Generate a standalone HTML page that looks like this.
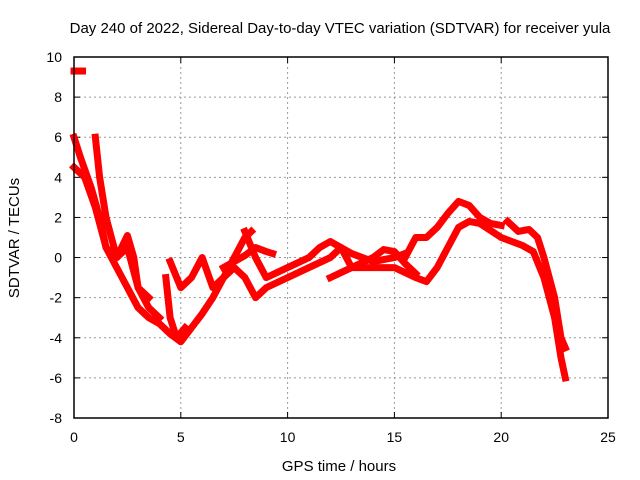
<!DOCTYPE html>
<html><head><meta charset="utf-8"><style>
body{margin:0;background:#fff}
svg{display:block;font-family:"Liberation Sans",sans-serif}
</style></head><body>
<svg id="chart" width="640" height="480">
<text x="340" y="33" font-size="15" text-anchor="middle">Day 240 of 2022, Sidereal Day-to-day VTEC variation (SDTVAR) for receiver yula</text>
<text x="339" y="471" font-size="15" text-anchor="middle">GPS time / hours</text>
<text transform="translate(19,238) rotate(-90)" font-size="15" text-anchor="middle">SDTVAR / TECUs</text>
<g id="grid"></g><g id="axes"></g><g id="marks"></g>
<rect x="74" y="57" width="534" height="361" fill="none" stroke="#000" stroke-width="1.5"/>
</svg>
<script>
const xTicks=[0,5,10,15,20,25];
const yTicks=[-8,-6,-4,-2,0,2,4,6,8,10];
const seriesX=[
[0,0.4],
[0,0.3,0.8,1.2,1.5,2,2.5,3,3.5,4,4.5,5,5.5,6,6.5,7,7.5,8,8.3],
[0,0.5,1,1.5,2,2.5,3,3.5,4],
[1,1.2,1.5,2,2.5,2.8,3,3.5],
[4.3,4.5,4.8,5.2],
[4.5,5,5.5,6,6.5,7,7.5,8,8.5,9,10,11,12,12.5,13,14,15,15.5],
[7,8,8.5,9,9.3],
[8,8.5,9,10,11,11.5,12,12.5,13,14,14.5,15,15.5,16],
[12,13,14,15,16,16.5,17,17.5,18,18.5,19,20,21,21.5,22,22.5,22.8,23],
[15.5,16,16.5,17,17.5,18,18.5,19,19.5,20],
[20.3,20.8,21.3,21.7,22,22.5,22.8,23]
];
const seriesY=[
[9.3,9.3],
[6,5,3.5,2,0.5,-0.5,-1.5,-2.5,-3,-3.3,-3.8,-4.2,-3.5,-2.8,-2,-1,0,1,1.3],
[4.5,4,2.5,0.5,0,0.5,-1.5,-2.5,-3],
[6,4,2,0,1.1,0,-1.5,-2],
[-1,-3,-4,-3.5],
[-0.2,-1.5,-1,0,-1.5,-1,-0.5,-1,-2,-1.5,-1,-0.5,0,0.5,0.2,-0.2,0,0.2],
[-0.5,0.1,0.5,0.3,0.2],
[1.3,0,-1,-0.5,0,0.5,0.8,0.5,-0.5,0,0.4,0.3,-0.3,-0.8],
[-1,-0.5,-0.5,-0.5,-1,-1.2,-0.5,0.5,1.5,1.8,1.7,1,0.6,0.3,-1,-3,-5,-6],
[0,1,1,1.5,2.2,2.8,2.6,2,1.7,1.6],
[1.8,1.3,1.4,1,0,-2,-4,-4.5]
];
const NS="http://www.w3.org/2000/svg";
const X=v=>74+v*534/25, Y=v=>418-(v+8)*361/18;
const grid=document.getElementById('grid'),axes=document.getElementById('axes'),marks=document.getElementById('marks');
function mk(tag,attrs,parent){const e=document.createElementNS(NS,tag);for(const k in attrs)e.setAttribute(k,attrs[k]);parent.appendChild(e);return e;}
xTicks.forEach(t=>{
  if(t>0&&t<25){const g=mk('line',{x1:X(t),x2:X(t),y1:57,y2:418,stroke:'#999','stroke-dasharray':'2,3'},grid);
  
  }
  mk('line',{x1:X(t),x2:X(t),y1:418,y2:412,stroke:'#000'},axes);
  mk('line',{x1:X(t),x2:X(t),y1:57,y2:63,stroke:'#000'},axes);
  const l=mk('text',{x:X(t),y:442,'font-size':14,'text-anchor':'middle'},axes);l.textContent=t;
  
  
});
yTicks.forEach(t=>{
  if(t>-8&&t<10){const g=mk('line',{x1:74,x2:608,y1:Y(t),y2:Y(t),stroke:'#999','stroke-dasharray':'2,3'},grid);
  
  }
  mk('line',{x1:74,x2:80,y1:Y(t),y2:Y(t),stroke:'#000'},axes);
  mk('line',{x1:608,x2:602,y1:Y(t),y2:Y(t),stroke:'#000'},axes);
  const l=mk('text',{x:62,y:Y(t)+5,'font-size':14,'text-anchor':'end'},axes);l.textContent=t;
  
  
});
seriesX.forEach((xs,i)=>{
  const pts=xs.map((x,j)=>X(x)+','+Y(seriesY[i][j])).join(' ');
  const p=mk('polyline',{points:pts,fill:'none',stroke:'#f00','stroke-width':7,'stroke-linejoin':'round','stroke-linecap':'square'},marks);
  
  
});
</script>
</body></html>
